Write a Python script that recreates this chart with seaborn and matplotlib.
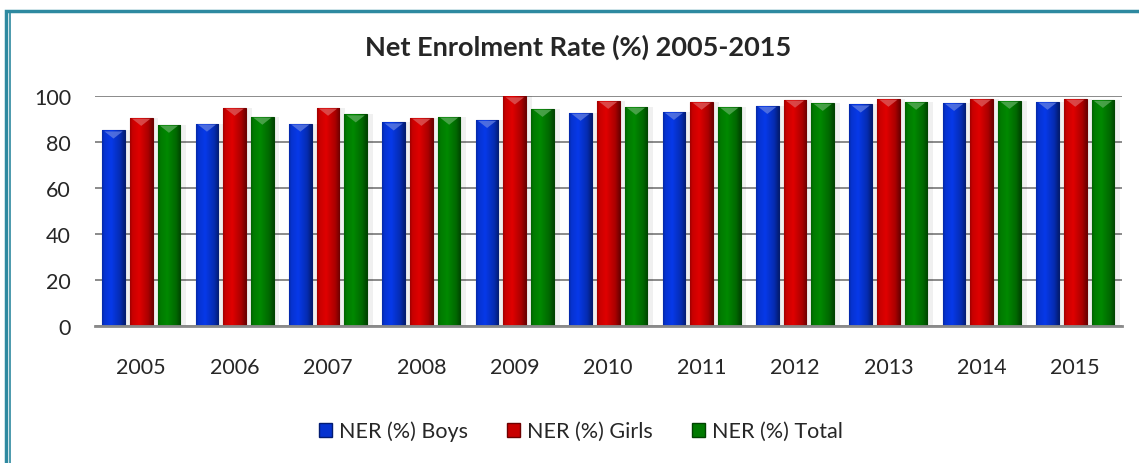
import numpy as np
import pandas as pd
import matplotlib
matplotlib.use("Agg")
import matplotlib.pyplot as plt
import matplotlib.colors as mcolors
from matplotlib.patches import Polygon, Rectangle
import seaborn as sns

years = ["2005", "2006", "2007", "2008", "2009", "2010", "2011", "2012", "2013", "2014", "2015"]
boys = [85.0, 88.0, 88.0, 88.5, 89.6, 92.7, 93.1, 95.7, 96.3, 97.0, 97.5]
girls = [90.5, 94.9, 94.9, 90.5, 99.8, 97.9, 97.5, 98.4, 98.8, 98.8, 98.8]
total = [87.5, 91.0, 92.0, 91.0, 94.4, 95.3, 95.3, 97.0, 97.5, 97.9, 98.3]
series = ["NER (%) Boys", "NER (%) Girls", "NER (%) Total"]
colors = ["#0633D0", "#C80000", "#007A00"]

df = pd.DataFrame({
    "year": years * 3,
    "value": boys + girls + total,
    "series": [series[0]] * 11 + [series[1]] * 11 + [series[2]] * 11,
})

sns.set_theme(style="white")
plt.rcParams["font.family"] = ["Lato", "DejaVu Sans"]

fig = plt.figure(figsize=(11.39, 4.64), dpi=100)
ax = fig.add_axes([0.083, 0.295, 0.902, 0.496])

sns.barplot(data=df, x="year", y="value", hue="series", palette=colors,
            width=0.89, gap=0.18, ax=ax, legend=False, saturation=1)

ax.set_ylim(0, 100)
ax.set_xlim(-0.5, len(years) - 0.5)
ax.set_yticks(range(0, 101, 20))
ax.yaxis.grid(True, color="#8a8a8a", linewidth=1.4)
ax.set_axisbelow(True)
for s in ["top", "right", "left"]:
    ax.spines[s].set_visible(False)
ax.spines["bottom"].set_color("#8a8a8a")
ax.spines["bottom"].set_linewidth(2)
ax.tick_params(axis="x", length=0, pad=22, labelsize=15.5)
ax.tick_params(axis="y", length=0, pad=17, labelsize=15.5)
ax.set_xlabel("")
ax.set_ylabel("")

# bevelled look for each bar
n_per = len(years)
for i, p in enumerate(list(ax.patches)):
    base = np.array(mcolors.to_rgb(colors[i // n_per]))
    x0, w, h = p.get_x(), p.get_width(), p.get_height()
    p.set_edgecolor(tuple(base * 0.55))
    p.set_linewidth(0.8)
    # soft shadow on the right
    sh = Rectangle((x0 + w, 0), w * 0.25, h, facecolor="#000000", alpha=0.06,
                   edgecolor="none", zorder=p.get_zorder() - 0.1)
    ax.add_patch(sh)
    t = np.linspace(0, 1, 60)
    shade = np.interp(t, [0, 0.1, 0.4, 0.8, 1.0], [0.8, 1.0, 1.12, 0.85, 0.55])
    grad = np.clip(base[None, :] * shade[:, None], 0, 1)[None, :, :]
    im = ax.imshow(grad, extent=[x0, x0 + w, 0, h], aspect="auto",
                   zorder=p.get_zorder() + 0.1, interpolation="bilinear")
    im.set_clip_path(p)
    light = np.clip(base + (1 - base) * 0.35, 0, 1)
    tri = Polygon([[x0 + w * 0.1, h - 0.4], [x0 + w * 0.9, h - 0.4], [x0 + w * 0.5, h - 3.5]],
                  closed=True, facecolor=light, edgecolor="none", alpha=0.8,
                  zorder=p.get_zorder() + 0.2)
    ax.add_patch(tri)
ax.set_xlim(-0.5, len(years) - 0.5)
ax.set_ylim(0, 100)

fig.text(0.508, 0.898, "Net Enrolment Rate (%) 2005-2015", ha="center", va="center",
         fontsize=19.5, fontweight="bold")

handles = [Rectangle((0, 0), 1, 1, facecolor=c, edgecolor=tuple(np.array(mcolors.to_rgb(c)) * 0.55))
           for c in colors]
fig.legend(handles, series, loc="center", bbox_to_anchor=(0.51, 0.069), ncol=3,
           frameon=False, fontsize=15.5, handlelength=0.6, handleheight=0.6,
           handletextpad=0.35, columnspacing=1.8)

# double border round the chart
for off, lw in [(0.005, 2.5), (0.0085, 1.2)]:
    fig.patches.append(Rectangle((off, -0.1), 1.1, 1.08 - off, transform=fig.transFigure,
                                 fill=False, edgecolor="#2E89A0", linewidth=lw))

fig.savefig("out.png", dpi=100)
